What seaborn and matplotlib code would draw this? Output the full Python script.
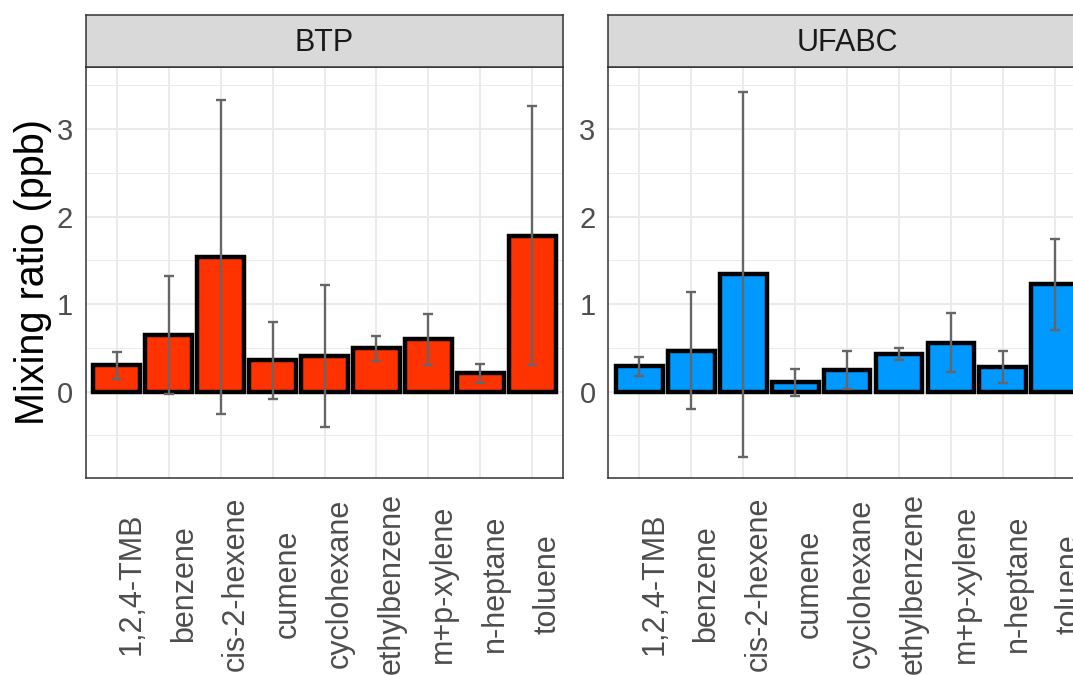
import numpy as np
import pandas as pd
import matplotlib
matplotlib.use("Agg")
import matplotlib.pyplot as plt
import seaborn as sns

# ---- data ----
compounds = ["1,2,4-TMB", "benzene", "cis-2-hexene", "cumene", "cyclohexane",
             "ethylbenzene", "m+p-xylene", "n-heptane", "toluene"]
sites = ["BTP", "UFABC"]
btp_mean = [0.30, 0.645, 1.535, 0.36, 0.41, 0.495, 0.60, 0.21, 1.78]
btp_sd = [0.15, 0.675, 1.795, 0.44, 0.81, 0.145, 0.29, 0.11, 1.48]
ufabc_mean = [0.29, 0.47, 1.34, 0.105, 0.25, 0.43, 0.56, 0.28, 1.23]
ufabc_sd = [0.11, 0.67, 2.09, 0.15, 0.22, 0.065, 0.34, 0.18, 0.52]
site_colors = ["#FF3300", "#0099FF"]
y_ticks = [0, 1, 2, 3]
y_label = "Mixing ratio (ppb)"

sns.set_theme(style="white")
plt.rcParams["font.family"] = ["Liberation Sans", "DejaVu Sans"]

W, H = 1073, 675
fig = plt.figure(figsize=(W / 100, H / 100), dpi=100)

def fx(px):
    return px / W

def fy(py):
    return 1 - py / H

panel_left = [85.7, 608.3]
panel_w = 477.6
panel_top, panel_bottom = 66.7, 477.7
strip_top = 15.0

means = [btp_mean, ufabc_mean]
sds = [btp_sd, ufabc_sd]

for k, site in enumerate(sites):
    ax = fig.add_axes([fx(panel_left[k]), fy(panel_bottom), fx(panel_w),
                       (panel_bottom - panel_top) / H])
    df = pd.DataFrame({"compound": compounds, "mean": means[k], "sd": sds[k]})
    sns.barplot(data=df, x="compound", y="mean", color=site_colors[k],
                saturation=1, edgecolor="black", linewidth=3.2, width=0.9,
                errorbar=None, ax=ax, zorder=2)
    xs = np.arange(len(df))
    ax.errorbar(xs, df["mean"], yerr=df["sd"], fmt="none", ecolor="#666666",
                elinewidth=1.7, capsize=3.8, capthick=1.7, zorder=4)
    ax.set_xlim(-0.6, len(compounds) - 0.4)
    ax.set_ylim(-0.983, 3.714)
    ax.set_yticks(y_ticks)
    ax.set_yticklabels([str(t) for t in y_ticks])
    ax.set_yticks(np.arange(-0.5, 4.0, 1.0), minor=True)
    ax.set_axisbelow(True)
    ax.grid(True, which="major", axis="both", color="#EBEBEB", lw=1.4)
    ax.grid(True, which="minor", axis="y", color="#EBEBEB", lw=0.7)
    ax.set_xlabel("")
    ax.set_ylabel("")
    for sp in ax.spines.values():
        sp.set_visible(True)
        sp.set_color("#333333")
        sp.set_linewidth(1.1)
    ax.tick_params(axis="both", which="major", direction="out", length=5.4,
                   width=1.1, color="#333333", labelcolor="#4D4D4D")
    ax.tick_params(axis="y", which="major", labelsize=21, pad=3.8)
    ax.tick_params(axis="y", which="minor", length=0)
    ax.tick_params(axis="x", which="major", labelsize=22, pad=71)
    for lab in ax.get_xticklabels():
        lab.set_rotation(90)
        lab.set_ha("left")
        lab.set_va("center")
    if k == 0:
        ax.set_ylabel(y_label, fontsize=28.5, color="black", labelpad=3.6)

    # facet strip
    sax = fig.add_axes([fx(panel_left[k]), fy(panel_top), fx(panel_w),
                        (panel_top - strip_top) / H])
    sax.set_facecolor("#D9D9D9")
    sax.set_xticks([])
    sax.set_yticks([])
    for sp in sax.spines.values():
        sp.set_color("#333333")
        sp.set_linewidth(1.1)
    sax.text(0.5, 0.46, site, ha="center", va="center", fontsize=22,
             color="#1A1A1A", transform=sax.transAxes)

fig.savefig("out.png", dpi=100, facecolor="white")
